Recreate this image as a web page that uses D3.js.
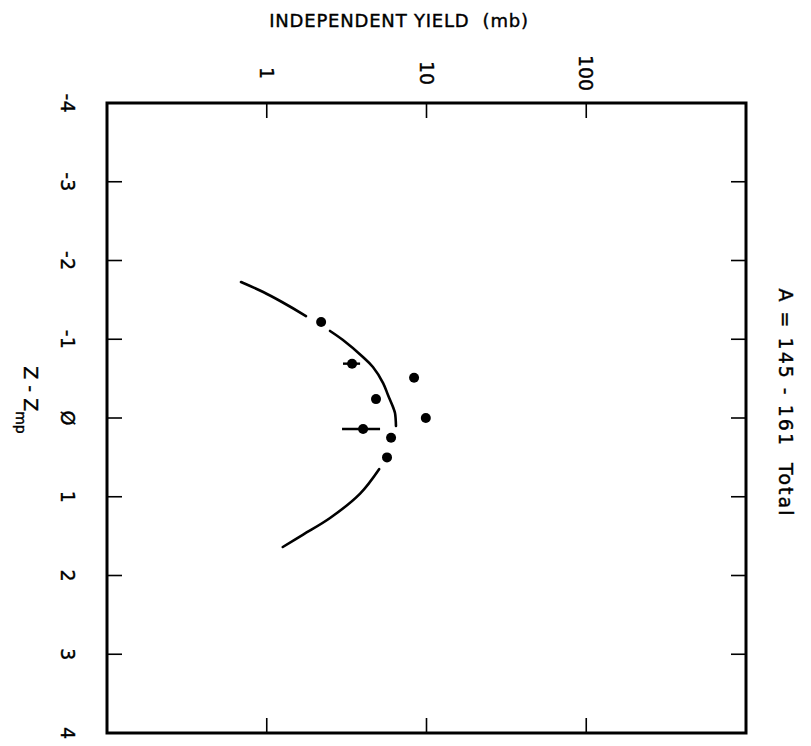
<!DOCTYPE html>
<html>
<head>
<meta charset="utf-8">
<script src="https://cdn.jsdelivr.net/npm/d3@7"></script>
<style>
  body { margin: 0; background: #fff; }
  text { font-family: "DejaVu Sans", sans-serif; fill: #000; stroke: #000; stroke-width: 0.4px; }
</style>
</head>
<body>
<svg id="chart" width="811" height="746"></svg>
<script>
// Z - Zmp axis (drawn vertically) and yield axis (log, drawn horizontally)
const zTicks = [-4, -3, -2, -1, 0, 1, 2, 3, 4];
const zTickLabels = ["-4", "-3", "-2", "-1", "Ø", "1", "2", "3", "4"];
const yieldTicks = [1, 10, 100];
const yieldTickLabels = ["1", "10", "100"];

// measured independent yields (mb)
const pointZ     = [-1.22, -0.69, -0.51, -0.24, 0.00, 0.14, 0.25, 0.50];
const pointYield = [ 2.19,  3.42,  8.36,  4.83, 9.90, 4.01, 6.00, 5.66];
const errLow     = [ null,  3.00,  null,  null, null, 2.96, null, null];
const errHigh    = [ null,  3.84,  null,  null, null, 5.12, null, null];

// charge-distribution curve; null breaks the pen where it lifts
const curveZ     = [-1.727, -1.60, -1.473, -1.295, null, -1.105, -0.99, -0.775, -0.648, -0.444, -0.292, -0.14, -0.063, 0.102, null, 0.65, 0.96, 1.27, 1.48, 1.638];
const curveYield = [  0.69,  0.95,  1.245,  1.76,  null,  2.49,   3.00,  4.00,   4.62,   5.35,   5.74,   6.17,  6.35,  6.44,  null, 5.05, 3.84, 2.49, 1.69, 1.26];

const svg = d3.select("#chart");
const frame = { left: 107, right: 746, top: 103, bottom: 733 };

const x = d3.scaleLog().domain([0.1, 1000]).range([frame.left, frame.right]);
const y = d3.scaleLinear().domain([-4, 4]).range([frame.top, frame.bottom]);

// frame
svg.append("rect")
  .attr("x", frame.left).attr("y", frame.top)
  .attr("width", frame.right - frame.left).attr("height", frame.bottom - frame.top)
  .attr("fill", "none").attr("stroke", "#000").attr("stroke-width", 3);

// inward ticks on all four sides
const tickLen = 15;
const innerZ = zTicks.filter(d => d > -4 && d < 4);
const ticks = svg.append("g").attr("stroke", "#000").attr("stroke-width", 1.6);
ticks.append("g").selectAll("line").data(innerZ).join("line")
  .attr("x1", frame.left).attr("x2", frame.left + tickLen)
  .attr("y1", d => y(d)).attr("y2", d => y(d));
ticks.append("g").selectAll("line").data(innerZ).join("line")
  .attr("x1", frame.right).attr("x2", frame.right - tickLen)
  .attr("y1", d => y(d)).attr("y2", d => y(d));
ticks.append("g").selectAll("line").data(yieldTicks).join("line")
  .attr("x1", d => x(d)).attr("x2", d => x(d))
  .attr("y1", frame.top).attr("y2", frame.top + tickLen);
ticks.append("g").selectAll("line").data(yieldTicks).join("line")
  .attr("x1", d => x(d)).attr("x2", d => x(d))
  .attr("y1", frame.bottom).attr("y2", frame.bottom - tickLen);

// tick labels, written sideways like the rest of the plot
svg.append("g").selectAll("text").data(zTicks).join("text")
  .attr("transform", d => `translate(68,${y(d)}) rotate(90)`)
  .attr("text-anchor", "middle").attr("dy", "0.36em")
  .attr("font-size", 19)
  .text((d, i) => zTickLabels[i]);

svg.append("g").selectAll("text").data(yieldTicks).join("text")
  .attr("transform", d => `translate(${x(d)},73) rotate(90)`)
  .attr("text-anchor", "middle").attr("dy", "0.36em")
  .attr("font-size", 19)
  .text((d, i) => yieldTickLabels[i]);

// axis titles
svg.append("text")
  .attr("x", 399).attr("y", 27)
  .attr("text-anchor", "middle")
  .attr("font-size", 18).attr("letter-spacing", 0.8)
  .attr("xml:space", "preserve")
  .text("INDEPENDENT YIELD  (mb)");

const zTitle = svg.append("text")
  .attr("transform", `translate(31,400) rotate(90)`)
  .attr("text-anchor", "middle").attr("dy", "0.36em")
  .attr("font-size", 19)
  .attr("xml:space", "preserve");
zTitle.append("tspan").text("Z - Z");
zTitle.append("tspan").attr("dy", "0.6em").attr("font-size", 14).text("mp");

svg.append("text")
  .attr("transform", `translate(786,403) rotate(90)`)
  .attr("text-anchor", "middle").attr("dy", "0.36em")
  .attr("font-size", 19).attr("letter-spacing", 2)
  .attr("xml:space", "preserve")
  .text("A = 145 - 161  Total");

// curve
const curvePts = curveZ.map((z, i) => ({ z, v: curveYield[i] }));
const line = d3.line()
  .defined(d => d.z !== null && d.v !== null)
  .x(d => x(d.v)).y(d => y(d.z))
  .curve(d3.curveCatmullRom);
svg.append("path")
  .attr("d", line(curvePts))
  .attr("fill", "none").attr("stroke", "#000")
  .attr("stroke-width", 2.6).attr("stroke-linecap", "round");

// data points with horizontal error bars
const pts = pointZ.map((z, i) => ({ z, v: pointYield[i], lo: errLow[i], hi: errHigh[i] }));
svg.append("g").selectAll("line").data(pts.filter(d => d.lo !== null)).join("line")
  .attr("x1", d => x(d.lo)).attr("x2", d => x(d.hi))
  .attr("y1", d => y(d.z)).attr("y2", d => y(d.z))
  .attr("stroke", "#000").attr("stroke-width", 2.4);
svg.append("g").selectAll("circle").data(pts).join("circle")
  .attr("cx", d => x(d.v)).attr("cy", d => y(d.z))
  .attr("r", 5).attr("fill", "#000");
</script>
</body>
</html>
